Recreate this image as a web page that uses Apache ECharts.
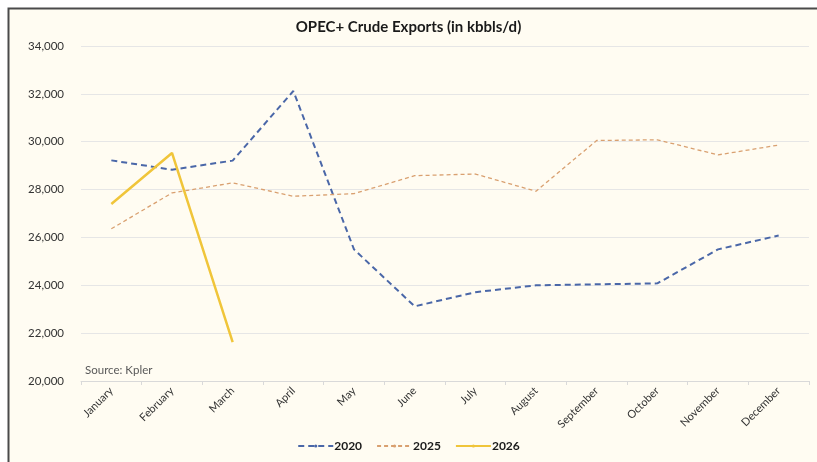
<!DOCTYPE html>
<html>
<head>
<meta charset="utf-8">
<script src="https://cdn.jsdelivr.net/npm/echarts@6/dist/echarts.min.js"></script>
<style>
html,body{margin:0;padding:0;background:#ffffff;}
#c{width:817px;height:462px;}
</style>
</head>
<body>
<div id="c"></div>
<script>
const months = ['January','February','March','April','May','June','July','August','September','October','November','December'];
const s2020 = [29220, 28830, 29210, 32120, 25500, 23120, 23710, 24000, 24040, 24080, 25500, 26080];
const s2025 = [26360, 27860, 28280, 27720, 27830, 28580, 28650, 27930, 30050, 30080, 29450, 29860];
const s2026 = [27400, 29530, 21620, null, null, null, null, null, null, null, null, null];
const yTicks = {min: 20000, max: 34000, interval: 2000};

const chart = echarts.init(document.getElementById('c'));
const font = 'Lato, "Open Sans", sans-serif';
chart.setOption({
  backgroundColor: '#ffffff',
  animation: false,
  graphic: [
    {type: 'rect', z: -10, shape: {x: 8, y: 8, width: 820, height: 470}, style: {fill: '#fffcf2'}},
    {type: 'polyline', z: 100, shape: {points: [[8.5, 470], [8.5, 8.5], [820, 8.5]]}, style: {stroke: '#4a4a4a', lineWidth: 2, fill: null}},
    {type: 'text', left: 85, top: 364, style: {text: 'Source: Kpler', fontSize: 11.5, fill: '#595959', fontFamily: font}}
  ],
  title: {
    text: 'OPEC+ Crude Exports (in kbbls/d)',
    left: 'center', top: 15,
    textStyle: {fontSize: 15, fontWeight: 'bold', color: '#1a1a1a', fontFamily: font}
  },
  grid: {left: 81, right: 8, top: 46, bottom: 81},
  legend: {
    bottom: 5,
    left: 'center',
    itemWidth: 35, itemHeight: 4, itemGap: 14,
    textStyle: {fontSize: 12, fontWeight: 'bold', color: '#1a1a1a', fontFamily: font, padding: [0,0,0,-4]},
    data: ['2020', '2025', '2026']
  },
  xAxis: {
    type: 'category',
    data: months,
    boundaryGap: true,
    axisLine: {lineStyle: {color: '#d9d9d9'}},
    axisTick: {show: true, length: 4, lineStyle: {color: '#d9d9d9'}},
    axisLabel: {rotate: 45, fontSize: 11, color: '#333333', fontFamily: font, margin: 8}
  },
  yAxis: {
    type: 'value',
    min: yTicks.min, max: yTicks.max, interval: yTicks.interval,
    axisLine: {show: false},
    axisTick: {show: false},
    splitLine: {lineStyle: {color: '#e6e6e6'}},
    axisLabel: {
      fontSize: 11.5, color: '#333333', fontFamily: font, margin: 17,
      formatter: v => v.toLocaleString('en-US')
    }
  },
  series: [
    {name: '2020', type: 'line', data: s2020, symbol: 'none', color: '#4a67a8',
      lineStyle: {width: 2, type: [6, 4], color: '#4a67a8'}},
    {name: '2025', type: 'line', data: s2025, symbol: 'none', color: '#d9a070',
      lineStyle: {width: 1.3, type: [4, 3], color: '#d9a070'}},
    {name: '2026', type: 'line', data: s2026, symbol: 'none', color: '#f0c53a',
      lineStyle: {width: 2.5, type: 'solid', color: '#f0c53a'}}
  ]
});
</script>
</body>
</html>
